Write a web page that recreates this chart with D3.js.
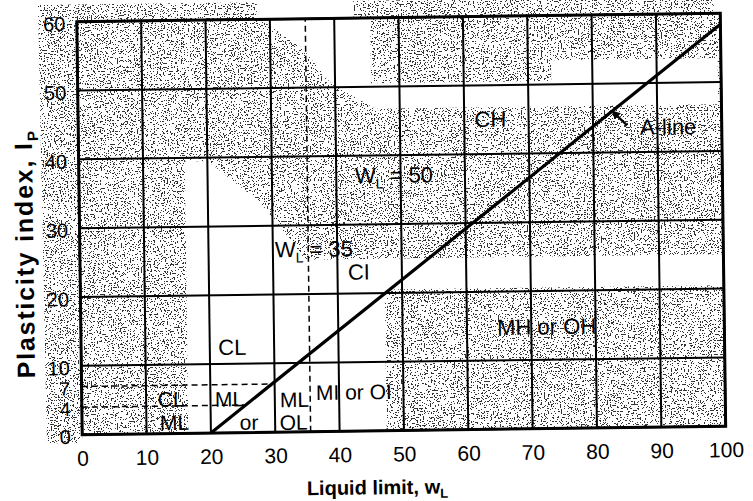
<!DOCTYPE html>
<html><head><meta charset="utf-8">
<script src="https://cdn.jsdelivr.net/npm/d3@7"></script>
<style>
html,body{margin:0;padding:0;background:#fff;}
svg{display:block;font-family:"Liberation Sans",Arial,sans-serif;}
</style></head><body>
<svg id="chart" width="753" height="501"></svg>
<script>
// ---- data ----
const xTickValues = [0, 10, 20, 30, 40, 50, 60, 70, 80, 90, 100];
const yTickValues = [0, 4, 7, 10, 20, 30, 40, 50, 60];
const gridX = [0, 10, 20, 30, 40, 50, 60, 70, 80, 90, 100];
const gridY = [0, 10, 20, 30, 40, 50, 60];
const aLinePoints = [[20, 0], [100, 58.4]];        // Ip = 0.73 (wL - 20)
const wlDividers = [35.5];                          // vertical dashed line (wL = 35, as drawn)
const ipDividers = [4, 7];                          // horizontal dashed lines (up to the A-line)
const zoneNames = ["CH", "A-line", "WL = 50", "WL = 35", "CI", "MH or OH", "CL", "CL", "ML", "ML", "or", "ML", "OL", "MI or OI"];
const zoneAnchorWL = [61.6, 87.3, 42.9, 30.3, 41.6, 64.7, 21.3, 11.8, 12.1, 20.7, 24.5, 30.8, 30.7, 36.4];
const zoneAnchorIP = [43.95, 42.5, 36.0, 25.4, 22.0, 13.7, 11.3, 3.9, 0.5, 3.8, 0.4, 3.6, 0.3, 4.6];
const arrowFrom = [85.3, 43.9];
const arrowTo = [83.0, 46.0];
// shaded (stippled) background zones, in chart units
const shadeIn = [
  [[-6, 62.5], [0, 62.5], [0, -1.2], [-5.5, -1.2]],
  [[0, 62.5], [28, 62.5], [28, 60], [0, 60]],
  [[43, 62.5], [99, 62.5], [99, 60], [43, 60]],
  [[0, 0], [100, 0], [100, 60], [0, 60]]
];
const shadeOut = [
  [[28.5, 60], [45.6, 60], [45.6, 50.5], [73.6, 50.5], [73.6, 53.5], [99.5, 53.5], [99.5, 46.8], [46.2, 46.8], [39.4, 50.5], [35, 55.7]],
  [[16.5, 0], [16.5, 39.5], [20, 39.5], [28, 33.5], [31, 30], [35, 25], [100, 25], [100, 20.5], [47.3, 20.5], [47.3, 0]]
];

// ---- setup ----
const svg = d3.select("#chart");
const defs = svg.append("defs");
const x = d3.scaleLinear().domain([0, 100]).range([79.5, 723]);
const y = d3.scaleLinear().domain([0, 60]).range([430.5, 17.5]);
const line = d3.line().x(d => x(d[0])).y(d => y(d[1]));
const aSlope = (aLinePoints[1][1] - aLinePoints[0][1]) / (aLinePoints[1][0] - aLinePoints[0][0]);
const wlOnALine = ip => aLinePoints[0][0] + ip / aSlope;

const filt = defs.append("filter").attr("id", "stipple")
  .attr("filterUnits", "userSpaceOnUse").attr("x", 0).attr("y", 0).attr("width", 753).attr("height", 501)
  .attr("color-interpolation-filters", "sRGB");
filt.append("feTurbulence").attr("type", "fractalNoise").attr("baseFrequency", 0.7).attr("numOctaves", 2).attr("seed", 11).attr("result", "n");
filt.append("feColorMatrix").attr("in", "n").attr("type", "matrix")
  .attr("values", "0 0 0 0 0.2  0 0 0 0 0.2  0 0 0 0 0.2  -2.5 0 0 0 1.47");
const ct = filt.append("feComponentTransfer");
ct.append("feFuncA").attr("type", "discrete").attr("tableValues", "0 1");

const mask = defs.append("mask").attr("id", "shadeMask").attr("maskUnits", "userSpaceOnUse")
  .attr("x", 0).attr("y", 0).attr("width", 753).attr("height", 501);
const rot = "rotate(-0.75,400,225)";
const mg = mask.append("g").attr("transform", rot);
mg.selectAll("path.in").data(shadeIn).join("path").attr("class", "in").attr("d", d => line(d) + "Z").attr("fill", "#fff");
mg.selectAll("path.out").data(shadeOut).join("path").attr("class", "out").attr("d", d => line(d) + "Z").attr("fill", "#000");

defs.append("marker").attr("id", "arrowHead").attr("viewBox", "0 0 10 10").attr("refX", 9).attr("refY", 5)
  .attr("markerWidth", 4).attr("markerHeight", 4).attr("orient", "auto").attr("markerUnits", "strokeWidth")
  .append("path").attr("d", "M0,0 L10,5 L0,10 z").attr("fill", "#000");

// texture drawn unrotated (avoids resampling streaks), masked by the rotated zones
svg.append("rect").attr("x", 0).attr("y", 0).attr("width", 753).attr("height", 501)
  .attr("fill", "#000").attr("filter", "url(#stipple)").attr("mask", "url(#shadeMask)");

const root = svg.append("g").attr("transform", rot);

// grid
root.append("g").selectAll("line").data(gridX).join("line")
  .attr("x1", d => x(d)).attr("x2", d => x(d)).attr("y1", y(0)).attr("y2", y(60))
  .attr("stroke", "#000").attr("stroke-width", 2);
root.append("g").selectAll("line").data(gridY).join("line")
  .attr("x1", x(0)).attr("x2", x(100)).attr("y1", d => y(d)).attr("y2", d => y(d))
  .attr("stroke", "#000").attr("stroke-width", 2);
root.append("rect").attr("x", x(0)).attr("y", y(60)).attr("width", x(100) - x(0)).attr("height", y(0) - y(60))
  .attr("fill", "none").attr("stroke", "#000").attr("stroke-width", 3);

// dashed dividers
root.append("g").selectAll("line").data(wlDividers).join("line")
  .attr("x1", d => x(d)).attr("x2", d => x(d)).attr("y1", y(0)).attr("y2", y(60))
  .attr("stroke", "#000").attr("stroke-width", 1.5).attr("stroke-dasharray", "6,4");
root.append("g").selectAll("line").data(ipDividers).join("line")
  .attr("x1", x(0)).attr("x2", d => x(wlOnALine(d))).attr("y1", d => y(d)).attr("y2", d => y(d))
  .attr("stroke", "#000").attr("stroke-width", 1.5).attr("stroke-dasharray", "6,4");

// A-line
root.append("path").datum(aLinePoints).attr("d", line).attr("fill", "none")
  .attr("stroke", "#000").attr("stroke-width", 3.2);

// arrow
root.append("line").attr("x1", x(arrowFrom[0])).attr("y1", y(arrowFrom[1]))
  .attr("x2", x(arrowTo[0])).attr("y2", y(arrowTo[1]))
  .attr("stroke", "#000").attr("stroke-width", 2.2).attr("marker-end", "url(#arrowHead)");

// axes
const fam = '"Liberation Sans", Arial, sans-serif';
const xAxis = root.append("g").attr("transform", `translate(0,${y(0)})`)
  .call(d3.axisBottom(x).tickValues(xTickValues).tickSize(0).tickPadding(16));
xAxis.select(".domain").remove();
xAxis.attr("font-size", 21).attr("font-family", fam).selectAll("text").attr("fill", "#000");

const yAxis = root.append("g").attr("transform", `translate(${x(0)},0)`)
  .call(d3.axisLeft(y).tickValues(yTickValues).tickSize(0).tickPadding(11.5));
yAxis.select(".domain").remove();
yAxis.attr("font-size", 20).attr("font-family", fam).selectAll("text").attr("fill", "#000").attr("dy", "0.43em")
  .attr("font-size", d => (d === 4 || d === 7) ? 19 : 20);

// text with subscripts
function richText(sel, str, size, subSize) {
  const m = str.match(/^(.*?)([WwI])([LP])(.*)$/);
  if (!m || !(str.startsWith("W") || str.includes(", "))) { sel.text(str); return; }
  sel.append("tspan").text(m[1] + m[2]);
  sel.append("tspan").attr("font-size", subSize).attr("dy", size * 0.25).text(m[3]);
  if (m[4]) sel.append("tspan").attr("dy", -size * 0.25).text(m[4]);
}

root.append("g").attr("font-family", fam).attr("font-size", 22).attr("fill", "#000")
  .selectAll("text").data(zoneNames).join("text")
  .attr("x", (d, i) => x(zoneAnchorWL[i])).attr("y", (d, i) => y(zoneAnchorIP[i]))
  .attr("font-size", (d, i) => zoneAnchorIP[i] < 5 ? 21 : 22)
  .each(function (d) { richText(d3.select(this), d, 22, 14); });

// axis titles
const xt = root.append("text").attr("x", 374).attr("y", 494).attr("text-anchor", "middle")
  .attr("font-family", fam).attr("font-weight", "bold").attr("font-size", 20).attr("fill", "#000");
richText(xt, "Liquid limit, wL", 17, 13);
const yt = root.append("text").attr("transform", "translate(33,249) rotate(-90)").attr("text-anchor", "middle")
  .attr("font-family", fam).attr("font-weight", "bold").attr("font-size", 25).attr("letter-spacing", 1.8).attr("fill", "#000");
richText(yt, "Plasticity index, IP", 25, 15);
</script>
</body></html>
